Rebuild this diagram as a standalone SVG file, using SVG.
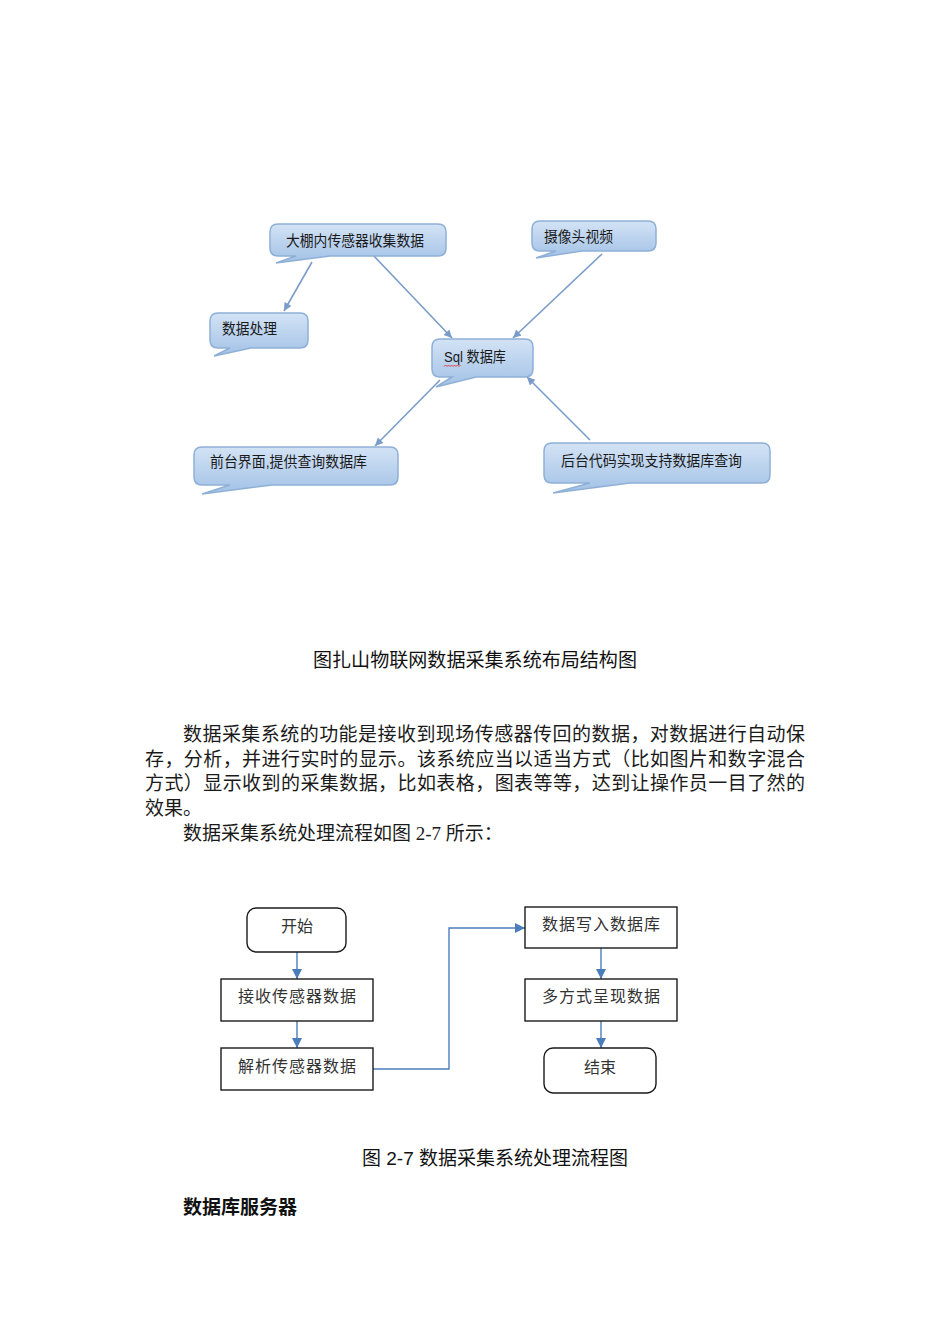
<svg xmlns="http://www.w3.org/2000/svg" width="950" height="1344" viewBox="0 0 950 1344">
<defs>
<linearGradient id="cg" x1="0" y1="0" x2="0" y2="1">
<stop offset="0" stop-color="#d3e3f5"/>
<stop offset="1" stop-color="#a2c1e6"/>
</linearGradient>
<marker id="ma" viewBox="0 0 10 10" refX="10" refY="5" markerWidth="10" markerHeight="8" markerUnits="userSpaceOnUse" orient="auto">
<path d="M0,0 L10,5 L0,10 z" fill="#7a9cc8"/>
</marker>
<marker id="mb" viewBox="0 0 10 10" refX="10" refY="5" markerWidth="11" markerHeight="10" markerUnits="userSpaceOnUse" orient="auto">
<path d="M0,0 L10,5 L0,10 z" fill="#4a7ebb"/>
</marker>
<style>
.call{fill:url(#cg);stroke:#8fb0d6;stroke-width:1.5}
.ct{font-family:"Liberation Sans","Noto Sans CJK SC",sans-serif;font-size:15px;fill:#1a1a1a}
.ar{stroke:#7a9cc8;stroke-width:1.6;fill:none;marker-end:url(#ma)}
.box{fill:#fff;stroke:#1a1a1a;stroke-width:1.4}
.ft{font-family:"Liberation Serif","Noto Sans CJK SC",serif;font-size:16px;fill:#333;text-anchor:middle}
.fca{stroke:#4a7ebb;stroke-width:1.4;fill:none;marker-end:url(#mb)}
.body{font-family:"Liberation Serif","Noto Sans CJK SC",serif;font-size:19px;fill:#1a1a1a}
.cap{font-family:"Liberation Sans","Noto Sans CJK SC",sans-serif;font-size:19px;fill:#111}
</style>
</defs>
<rect width="950" height="1344" fill="#fff"/>

<g id="top-connectors">
<line class="ar" x1="312" y1="262" x2="284" y2="311"/>
<line class="ar" x1="372" y1="254" x2="452" y2="338"/>
<line class="ar" x1="602" y1="254" x2="513" y2="338"/>
<line class="ar" x1="440" y1="380" x2="375" y2="446"/>
<line class="ar" x1="590" y1="440" x2="527" y2="377"/>
</g>

<g id="n-sensor">
<path class="call" d="M278,224 H438 Q446,224 446,232 V248 Q446,256 438,256 H330 L276,263 L296,256 H278 Q270,256 270,248 V232 Q270,224 278,224 Z"/>
<text class="ct" x="286" y="246" textLength="138" lengthAdjust="spacingAndGlyphs">大棚内传感器收集数据</text>
</g>

<g id="n-process">
<path class="call" d="M218,313 H300 Q308,313 308,321 V340 Q308,348 300,348 H251 L214,356 L230,348 H218 Q210,348 210,340 V321 Q210,313 218,313 Z"/>
<text class="ct" x="222" y="334" textLength="55" lengthAdjust="spacingAndGlyphs">数据处理</text>
</g>

<g id="n-camera">
<path class="call" d="M540,221 H648 Q656,221 656,229 V243 Q656,251 648,251 H582 L536,258 L556,251 H540 Q532,251 532,243 V229 Q532,221 540,221 Z"/>
<text class="ct" x="544" y="242" textLength="69" lengthAdjust="spacingAndGlyphs">摄像头视频</text>
</g>

<g id="n-sql">
<path class="call" d="M440,339 H525 Q533,339 533,347 V369 Q533,377 525,377 H476 L436,387 L452,377 H440 Q432,377 432,369 V347 Q432,339 440,339 Z"/>
<text class="ct" x="444" y="362" textLength="62" lengthAdjust="spacingAndGlyphs">Sql 数据库</text>
<path d="M444,366.5 l1.5,-1.5 l1.5,1.5 l1.5,-1.5 l1.5,1.5 l1.5,-1.5 l1.5,1.5 l1.5,-1.5 l1.5,1.5 l1.5,-1.5 l1.5,1.5 l1.5,-1.5" fill="none" stroke="#e03030" stroke-width="0.9"/>
</g>

<g id="n-front">
<path class="call" d="M202,447 H390 Q398,447 398,455 V477 Q398,485 390,485 H272 L202,494 L230,485 H202 Q194,485 194,477 V455 Q194,447 202,447 Z"/>
<text class="ct" x="210" y="467" textLength="157" lengthAdjust="spacingAndGlyphs">前台界面,提供查询数据库</text>
</g>

<g id="n-back">
<path class="call" d="M552,443 H762 Q770,443 770,451 V475 Q770,483 762,483 H630 L553,493 L590,483 H552 Q544,483 544,475 V451 Q544,443 552,443 Z"/>
<text class="ct" x="561" y="466" textLength="181" lengthAdjust="spacingAndGlyphs">后台代码实现支持数据库查询</text>
</g>

<text class="cap" x="313" y="667" textLength="324" lengthAdjust="spacingAndGlyphs">图扎山物联网数据采集系统布局结构图</text>

<text class="body" x="183" y="741" textLength="622" lengthAdjust="spacing">数据采集系统的功能是接收到现场传感器传回的数据，对数据进行自动保</text>
<text class="body" x="145" y="766" textLength="660" lengthAdjust="spacing">存，分析，并进行实时的显示。该系统应当以适当方式（比如图片和数字混合</text>
<text class="body" x="145" y="790" textLength="660" lengthAdjust="spacing">方式）显示收到的采集数据，比如表格，图表等等，达到让操作员一目了然的</text>
<text class="body" x="145" y="815">效果。</text>
<text class="body" x="183" y="840">数据采集系统处理流程如图 2-7 所示：</text>

<g id="flow-connectors">
<line class="fca" x1="297" y1="952" x2="297" y2="979"/>
<line class="fca" x1="297" y1="1021" x2="297" y2="1048"/>
<polyline class="fca" points="373,1069 449,1069 449,928 525,928"/>
<line class="fca" x1="601" y1="948" x2="601" y2="979"/>
<line class="fca" x1="601" y1="1021" x2="601" y2="1048"/>
</g>

<g id="f-start">
<rect class="box" x="247" y="908" width="99" height="44" rx="9"/>
<text class="ft" x="297" y="932">开始</text>
</g>
<g id="f-recv">
<rect class="box" x="221" y="979" width="152" height="42"/>
<text class="ft" x="297" y="1002" textLength="118" lengthAdjust="spacing">接收传感器数据</text>
</g>
<g id="f-parse">
<rect class="box" x="221" y="1048" width="152" height="42"/>
<text class="ft" x="297" y="1072" textLength="118" lengthAdjust="spacing">解析传感器数据</text>
</g>
<g id="f-write">
<rect class="box" x="525" y="907" width="152" height="41"/>
<text class="ft" x="601" y="930" textLength="118" lengthAdjust="spacing">数据写入数据库</text>
</g>
<g id="f-show">
<rect class="box" x="525" y="979" width="152" height="42"/>
<text class="ft" x="601" y="1002" textLength="118" lengthAdjust="spacing">多方式呈现数据</text>
</g>
<g id="f-end">
<rect class="box" x="544" y="1048" width="112" height="45" rx="9"/>
<text class="ft" x="600" y="1073">结束</text>
</g>

<text class="cap" x="362" y="1165">图 2-7 数据采集系统处理流程图</text>
<text class="cap" x="183" y="1214" font-weight="bold">数据库服务器</text>
</svg>
